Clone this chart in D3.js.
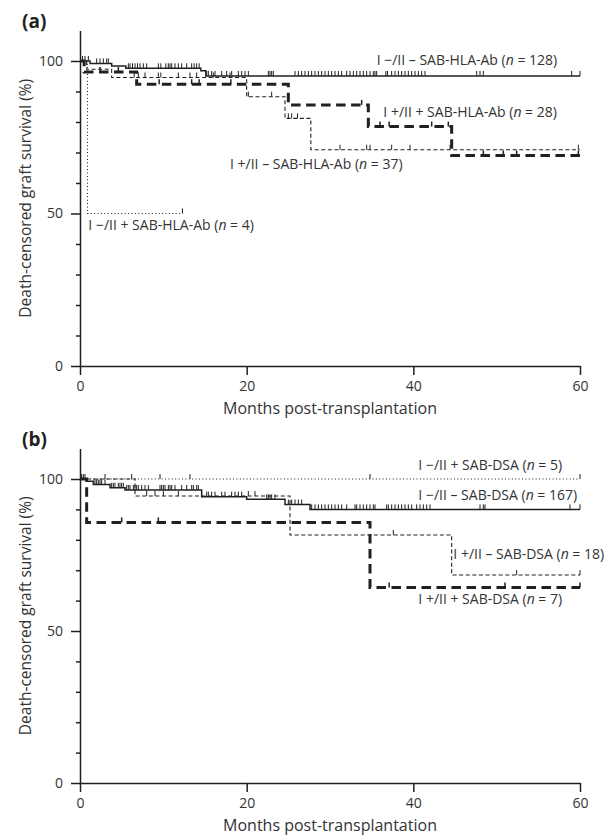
<!DOCTYPE html>
<html>
<head>
<meta charset="utf-8">
<script src="https://cdn.jsdelivr.net/npm/d3@7"></script>
<style>
  body { margin: 0; background: #fff; }
  svg { font-family: "Open Sans", sans-serif; }
</style>
</head>
<body>
<svg width="615" height="840"></svg>
<script>
// ---- data: Kaplan-Meier steps [month, survival %] and censor times ----
const solidA = [[0,100],[1.2,99.2],[3.8,98.4],[5.5,97.6],[14.5,96.8],[15.1,95.1],[60,95.1]];
const thinA = [[0,100],[0.8,97.3],[3.8,94.6],[20,88.3],[24.6,81.2],[27.7,70.9],[60,70.9]];
const thickA = [[0,100],[0.5,96.4],[6.8,92.4],[25,85.6],[34.6,78.5],[44.6,69.0],[60,69.0]];
const dottedA = [[0,100],[0.9,50],[12.3,50]];

const solidACens = [0.3,0.6,1.0,2.0,2.4,2.8,3.2,3.4,5.8,6.0,6.3,6.6,6.9,7.2,7.6,8.0,
  9.4,9.7,10.3,10.6,10.8,11.0,11.4,11.8,12.2,12.8,13.4,13.7,14.0,14.3,
  15.2,15.4,15.8,16.2,17.0,17.6,18.2,19.0,19.4,19.8,20.2,22.6,22.8,23.0,23.2,
  25.8,26.2,26.6,27.0,27.4,27.8,28.2,28.6,29.0,29.4,29.8,30.2,30.6,31.0,31.4,
  32.0,32.4,32.8,33.2,33.6,34.0,34.4,34.8,35.2,35.4,35.6,36.7,36.9,37.4,37.8,
  38.2,38.6,39.0,39.4,39.8,40.2,40.6,41.0,41.4,47.6,48.0,48.4,59.0,60];
const thinACens = [6.5,7.0,7.8,9.4,9.7,11.8,13.2,14.0,16.0,18.0,20.2,23.0,25.0,25.4,26.1,
  31.2,34.4,34.8,37.4,39.6,44.4,59.8];
const thickACens = [2.4,4.6,9.5,13.4,14.3,18.1,33.8,36.0,37.1,42.2,44.2,48.4,50.8,52.4,59.8];
const dottedACens = [12.3];

const solidB = [[0,100],[0.8,99.3],[1.6,98.2],[3.6,97.1],[5.4,96.4],[14.6,94.2],[20,93.3],[24.6,91.6],[27.6,90.0],[60,90.0]];
const thinB = [[0,100],[6.6,94.4],[25.2,81.6],[44.6,68.4],[60,68.4]];
const thickB = [[0,100],[0.8,85.7],[34.8,64.3],[60,64.3]];
const dottedB = [[0,100],[60,100]];

const solidBCens = [0.2,0.4,0.6,1.8,2.0,2.2,2.4,2.6,3.0,3.8,4.0,4.2,4.6,4.8,5.0,5.2,
  5.6,5.8,6.0,6.4,6.6,6.8,7.0,7.4,7.8,8.2,9.6,9.8,10.0,10.2,10.6,10.8,11.0,11.4,12.2,
  12.8,13.4,13.6,14.0,14.2,15.2,15.4,15.8,16.2,17.0,17.4,18.2,18.6,19.0,19.4,
  22.4,22.6,22.8,23.0,23.4,25.0,25.4,25.8,26.2,26.6,27.8,28.2,28.6,29.0,29.4,29.8,
  30.2,30.6,31.0,31.4,32.0,33.0,33.2,33.6,34.0,34.4,34.8,35.2,35.4,36.8,37.0,37.4,
  37.8,38.2,38.6,39.0,39.4,39.8,40.4,40.8,41.2,41.6,42.0,48.0,48.4,48.6,58.8,60];
const thinBCens = [3.0,8.0,9.0,10.0,11.8,20.2,21.0,37.6,52.4,60];
const thickBCens = [5.0,9.4,37.1,51.0,60];
const dottedBCens = [6.2,9.6,13.2,34.8,60];

const xTicks = [0, 20, 40, 60];
const yMajor = [0, 50, 100];
const yMinor = [10, 20, 30, 40, 60, 70, 80, 90];

const labelsA = [
  {t: "I \u2212/II \u2013 SAB-HLA-Ab (", n: " = 128)", x: 35.6, y: 98.6},
  {t: "I +/II +  SAB-HLA-Ab (", n: " = 28)", x: 36.4, y: 81.6},
  {t: "I +/II \u2013  SAB-HLA-Ab (", n: " = 37)", x: 18.0, y: 64.6},
  {t: "I \u2212/II +  SAB-HLA-Ab (", n: " = 4)", x: 1.0, y: 44.5}
];
const labelsB = [
  {t: "I \u2212/II + SAB-DSA  (", n: " = 5)", x: 40.6, y: 103.1},
  {t: "I \u2212/II \u2013 SAB-DSA (", n: " = 167)", x: 40.6, y: 93.2},
  {t: "I +/II \u2013 SAB-DSA (", n: " = 18)", x: 44.8, y: 73.8},
  {t: "I +/II + SAB-DSA (", n: " = 7)", x: 40.6, y: 59.0}
];

const styles = {
  solid:  {w: 1.5, dash: null},
  thin:   {w: 1.1, dash: "4,2.6"},
  thick:  {w: 3, dash: "9.5,5.5"},
  dotted: {w: 1.1, dash: "1,2.4"}
};

const svg = d3.select("svg");
const ink = "#231f20";

function survAt(steps, t) {
  let v = steps[0][1];
  for (const s of steps) { if (s[0] <= t) v = s[1]; }
  return v;
}

function panel(letter, y0, y110, series, labels) {
  const x = d3.scaleLinear().domain([0, 60]).range([80, 580]);
  const y = d3.scaleLinear().domain([0, 110]).range([y0, y110]);
  const g = svg.append("g");

  // axes
  g.append("g").attr("transform", `translate(0,${y0})`)
    .call(d3.axisBottom(x).tickValues(xTicks).tickSize(9).tickSizeOuter(0).tickPadding(6));
  g.append("g").attr("transform", "translate(80,0)")
    .call(d3.axisLeft(y).tickValues(yMajor).tickSize(9).tickSizeOuter(0).tickPadding(8));
  g.append("g").attr("transform", "translate(80,0)")
    .call(d3.axisLeft(y).tickValues(yMinor).tickSize(4).tickSizeOuter(0).tickFormat(""))
    .select(".domain").remove();
  g.selectAll(".domain, .tick line").attr("stroke", ink).attr("stroke-width", 1.5);
  g.selectAll(".tick text").attr("fill", "#333").style("font-size", "14px")
    .style("font-family", "'Open Sans', sans-serif");

  g.append("text").attr("x", 330).attr("y", y0 + 48).attr("text-anchor", "middle")
    .style("font-size", "16px").attr("fill", "#333").text("Months post-transplantation");
  g.append("text").attr("transform", `translate(31,${(y0 + y110) / 2}) rotate(-90)`)
    .attr("text-anchor", "middle").style("font-size", "15.5px").attr("fill", "#333")
    .text("Death-censored graft survival (%)");
  g.append("text").attr("x", 22).attr("y", y110 - 3).style("font-size", "19px")
    .style("font-weight", "bold").attr("fill", ink).text(`(${letter})`);

  const line = d3.line().x(d => x(d[0])).y(d => y(d[1])).curve(d3.curveStepAfter);

  series.forEach(s => {
    const st = styles[s.style];
    g.append("path").datum(s.steps).attr("d", line).attr("fill", "none")
      .attr("stroke", ink).attr("stroke-width", st.w)
      .attr("stroke-dasharray", st.dash);
    g.append("g").selectAll("line").data(s.cens).join("line")
      .attr("x1", d => x(d)).attr("x2", d => x(d))
      .attr("y1", d => y(survAt(s.steps, d)))
      .attr("y2", d => y(survAt(s.steps, d)) - 5)
      .attr("stroke", ink).attr("stroke-width", s.style === "thick" ? 1.5 : 1);
  });

  const lt = g.append("g").selectAll("text").data(labels).join("text")
    .attr("x", d => x(d.x)).attr("y", d => y(d.y))
    .style("font-size", "14px").attr("fill", "#333");
  lt.append("tspan").text(d => d.t);
  lt.append("tspan").style("font-style", "italic").text("n");
  lt.append("tspan").text(d => d.n);
}

panel("a", 366, 30.5, [
  {steps: dottedA, cens: dottedACens, style: "dotted"},
  {steps: thinA, cens: thinACens, style: "thin"},
  {steps: thickA, cens: thickACens, style: "thick"},
  {steps: solidA, cens: solidACens, style: "solid"}
], labelsA);

panel("b", 783, 448.6, [
  {steps: dottedB, cens: dottedBCens, style: "dotted"},
  {steps: thinB, cens: thinBCens, style: "thin"},
  {steps: thickB, cens: thickBCens, style: "thick"},
  {steps: solidB, cens: solidBCens, style: "solid"}
], labelsB);
</script>
</body>
</html>
